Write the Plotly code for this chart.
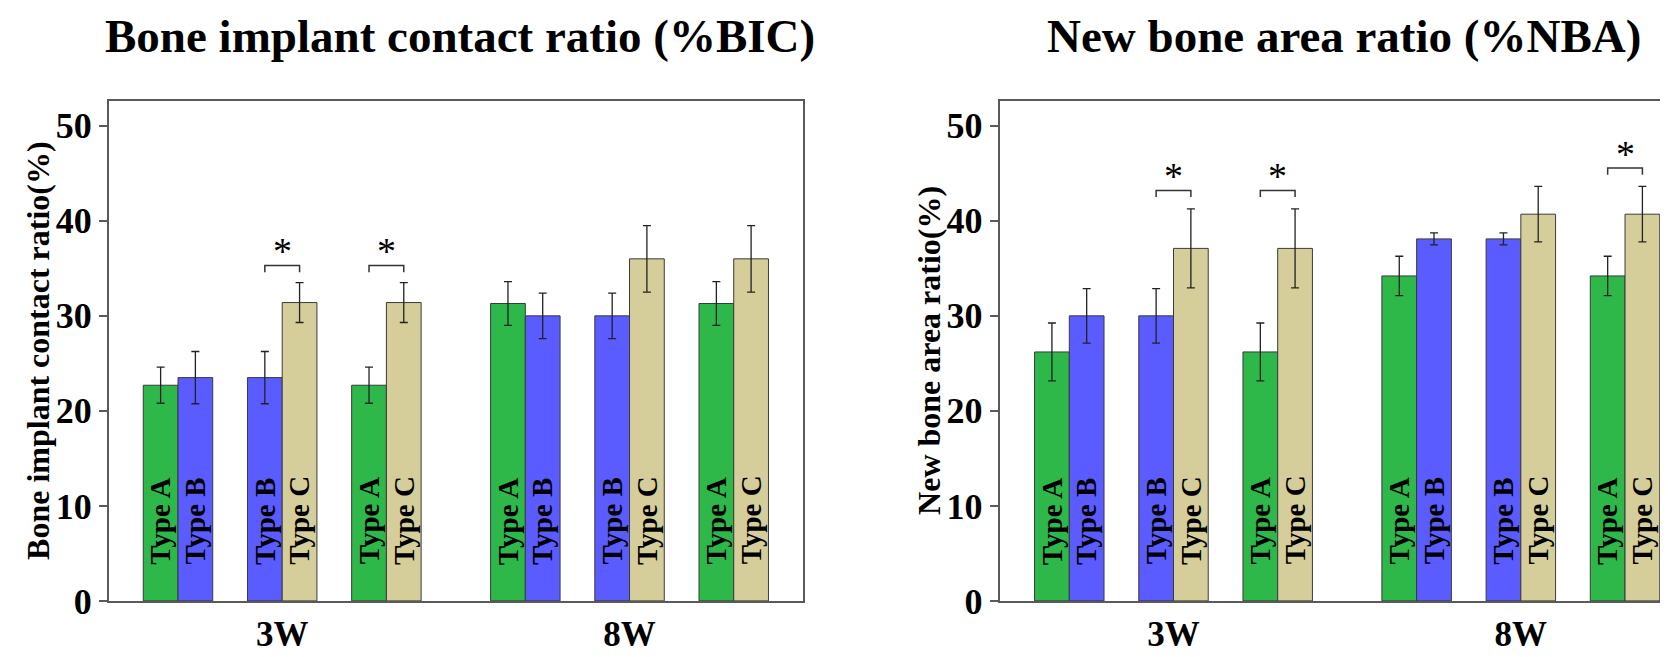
import plotly.graph_objects as go

W, H = 1668, 657

# ---- data ----
weeks = ["3W", "8W"]
pair_labels = ["A-B", "B-C", "A-C", "A-B", "B-C", "A-C"]
left_type = ["Type A", "Type B", "Type A", "Type A", "Type B", "Type A"]
right_type = ["Type B", "Type C", "Type C", "Type B", "Type C", "Type C"]

bic_left = [22.7, 23.5, 22.7, 31.3, 30.0, 31.3]
bic_left_err = [1.9, 2.75, 1.9, 2.3, 2.4, 2.3]
bic_right = [23.5, 31.4, 31.4, 30.0, 36.0, 36.0]
bic_right_err = [2.75, 2.1, 2.1, 2.4, 3.5, 3.5]

nba_left = [26.2, 30.0, 26.2, 34.2, 38.1, 34.2]
nba_left_err = [3.05, 2.87, 3.05, 2.07, 0.64, 2.07]
nba_right = [30.0, 37.1, 37.1, 38.1, 40.7, 40.7]
nba_right_err = [2.87, 4.15, 4.15, 0.64, 2.92, 2.92]

bic_sig_idx = [1, 2]
bic_sig_y = [35.3, 35.3]
nba_sig_idx = [1, 2, 5]
nba_sig_y = [43.2, 43.2, 45.55]

y_ticks = [0, 10, 20, 30, 40, 50]

titles = ["Bone implant contact ratio (%BIC)", "New bone area ratio (%NBA)"]
ytitles = ["Bone implant contact ratio(%)", "New bone area ratio(%)"]

# ---- styles ----
COLORS = {"Type A": "#2fb84a", "Type B": "#5a5cff", "Type C": "#d5ce9a"}
FONT = "Liberation Serif, Times New Roman, serif"
AXIS_COLOR = "#5a5a5a"

# x positions: extra gap of one bar width between the week blocks
xpos = [i + (1 / 3 if i >= 3 else 0) for i in range(len(pair_labels))]
week_pos = [xpos[1], xpos[4]]

fig = go.Figure()

panels = [
    (bic_left, bic_left_err, bic_right, bic_right_err, bic_sig_idx, bic_sig_y, "x", "y"),
    (nba_left, nba_left_err, nba_right, nba_right_err, nba_sig_idx, nba_sig_y, "x2", "y2"),
]

annotations = []
shapes = []
for (lv, le, rv, re, sidx, sy, xa, ya) in panels:
    for vals, errs, types in [(lv, le, left_type), (rv, re, right_type)]:
        fig.add_trace(go.Bar(
            x=xpos, y=vals,
            marker=dict(color=[COLORS[t] for t in types],
                        line=dict(color="#3a3a3a", width=1)),
            error_y=dict(type="data", array=errs, color="#222222",
                         thickness=1.3, width=4),
            xaxis=xa, yaxis=ya, showlegend=False,
        ))
    # labels inside bars
    for i, p in enumerate(xpos):
        for t, dx in [(left_type[i], -1 / 6), (right_type[i], 1 / 6)]:
            annotations.append(dict(
                x=p + dx, y=3.6, xref=xa, yref=ya, text=t, showarrow=False,
                textangle=-90, yanchor="bottom", xanchor="center",
                font=dict(family=FONT, size=29, color="black", weight="bold")))
    # significance brackets
    for i, yv in zip(sidx, sy):
        x0, x1 = xpos[i] - 1 / 6, xpos[i] + 1 / 6
        shapes.append(dict(type="path", xref=xa, yref=ya,
                           path=f"M {x0},{yv - 0.7} L {x0},{yv} L {x1},{yv} L {x1},{yv - 0.7}",
                           line=dict(color="#333333", width=1.5)))
        annotations.append(dict(
            x=xpos[i], y=yv, xref=xa, yref=ya, text="*", showarrow=False,
            yanchor="bottom", yshift=-9,
            font=dict(family=FONT, size=38, color="black")))

# panel geometry in pixels
L0, L1 = 101, 795
R0, R1 = 991.7, 1668
TOP, BOT = 96, 612.5
unit = 104.2
x0_pix_left = 170.0
x0_pix_right = 1061.3

axis_common = dict(showgrid=False, zeroline=False, linecolor=AXIS_COLOR, linewidth=2)
tickfont = dict(family=FONT, size=36, color="black", weight="bold")
xtickfont = dict(family=FONT, size=35, color="black", weight="bold")

ydom = [1 - BOT / H, 1 - TOP / H]
yrange = [0, (BOT - TOP) / 98.16 * 10]

fig.update_layout(
    width=W, height=H, margin=dict(l=0, r=0, t=0, b=0),
    paper_bgcolor="white", plot_bgcolor="white",
    barmode="group", bargap=1 / 3, bargroupgap=0,
    xaxis=dict(domain=[L0 / W, L1 / W],
               range=[(L0 - x0_pix_left) / unit, (L1 - x0_pix_left) / unit],
               tickvals=week_pos, ticktext=weeks, ticks="", tickfont=xtickfont,
               ticklabelstandoff=1,
               showline=True, mirror=True, anchor="y", **axis_common),
    yaxis=dict(domain=ydom, range=yrange, tickvals=y_ticks, ticks="outside",
               ticklen=8, tickwidth=1.5, tickcolor=AXIS_COLOR, tickfont=tickfont,
               showline=True, mirror=True, anchor="x", **axis_common),
    xaxis2=dict(domain=[R0 / W, 1.0],
                range=[(R0 - x0_pix_right) / unit, (R1 - x0_pix_right) / unit],
                tickvals=week_pos, ticktext=weeks, ticks="", tickfont=xtickfont,
                ticklabelstandoff=1,
                showline=True, mirror=True, anchor="y2", **axis_common),
    yaxis2=dict(domain=ydom, range=yrange, tickvals=y_ticks, ticks="outside",
                ticklen=8, tickwidth=1.5, tickcolor=AXIS_COLOR, tickfont=tickfont,
                showline=True, mirror=False, anchor="x2", **axis_common),
)

# titles
for txt, cx in zip(titles, [452, 1336]):
    annotations.append(dict(x=cx / W, y=1 - 29 / H, xref="paper", yref="paper",
                            text=txt, showarrow=False, xanchor="center", yanchor="middle",
                            font=dict(family=FONT, size=47, color="black", weight="bold")))
# y titles
for txt, cx in zip(ytitles, [30, 921]):
    annotations.append(dict(x=cx / W, y=1 - (TOP + BOT) / 2 / H, xref="paper", yref="paper",
                            text=txt, showarrow=False, textangle=-90,
                            xanchor="center", yanchor="middle",
                            font=dict(family=FONT, size=32, color="black", weight="bold")))

fig.update_layout(annotations=annotations, shapes=shapes)
fig.write_html("out.html")
